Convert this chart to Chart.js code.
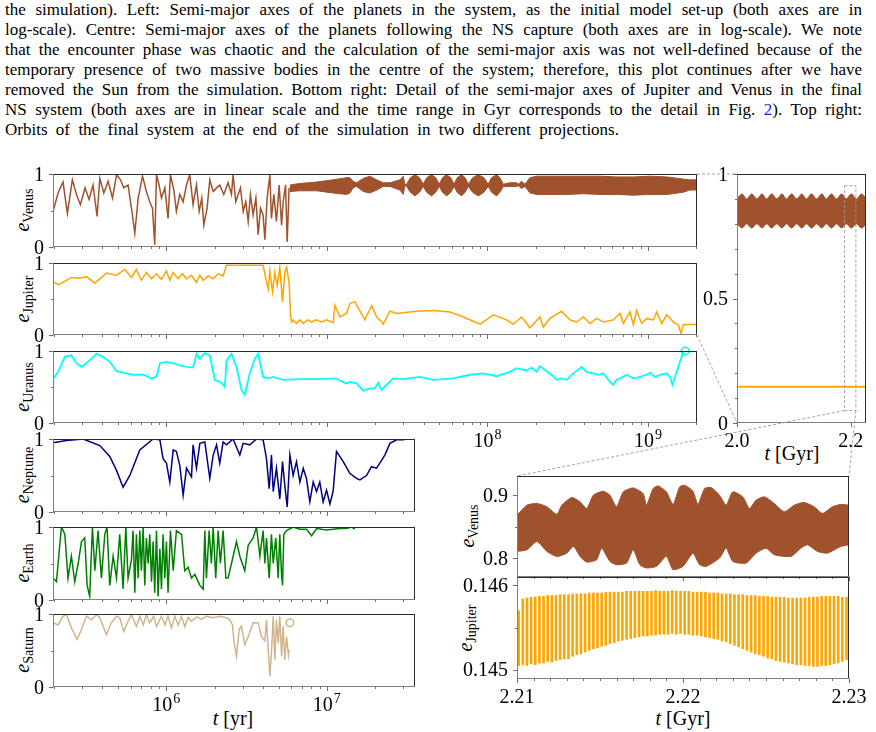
<!DOCTYPE html>
<html>
<head>
<meta charset="utf-8">
<script src="https://cdn.jsdelivr.net/npm/chart.js@4.4.1/dist/chart.umd.min.js"></script>
<style>
  body { margin: 0; background: #fff; }
  #fig { position: relative; width: 876px; height: 732px; overflow: hidden; font-family: "Liberation Serif", serif; color: #000; }
  #fig canvas { position: absolute; }
  .cap { position: absolute; left: 5px; font-size: 17px; line-height: 20px; white-space: nowrap; }
  .lab { position: absolute; white-space: nowrap; font-size: 20px; transform: translate(-50%, -50%); }
  .rot { transform: translate(-50%, -50%) rotate(-90deg); }
  .lab .sb { font-size: 14px; position: relative; top: 4px; }
</style>
</head>
<body>
<div id="fig">
  <div class="cap" style="top:0px" data-w="857"><span>the simulation). Left: Semi-major axes of the planets in the system, as the initial model set-up (both axes are in</span></div>
  <div class="cap" style="top:20px" data-w="857"><span>log-scale). Centre: Semi-major axes of the planets following the NS capture (both axes are in log-scale). We note</span></div>
  <div class="cap" style="top:40px" data-w="857"><span>that the encounter phase was chaotic and the calculation of the semi-major axis was not well-defined because of the</span></div>
  <div class="cap" style="top:60px" data-w="857"><span>temporary presence of two massive bodies in the centre of the system; therefore, this plot continues after we have</span></div>
  <div class="cap" style="top:80px" data-w="857"><span>removed the Sun from the simulation. Bottom right: Detail of the semi-major axes of Jupiter and Venus in the final</span></div>
  <div class="cap" style="top:100px" data-w="857"><span>NS system (both axes are in linear scale and the time range in Gyr corresponds to the detail in Fig. <span style="color:#1a1aff">2</span>). Top right:</span></div>
  <div class="cap" style="top:120px" data-w="614"><span>Orbits of the final system at the end of the simulation in two different projections.</span></div>

  <div class="lab rot" style="left:22px;top:210px"><i>e</i><span class="sb">Venus</span></div>
  <div class="lab rot" style="left:22px;top:299px"><i>e</i><span class="sb">Jupiter</span></div>
  <div class="lab rot" style="left:22px;top:387px"><i>e</i><span class="sb">Uranus</span></div>
  <div class="lab rot" style="left:22px;top:475px"><i>e</i><span class="sb">Neptune</span></div>
  <div class="lab rot" style="left:22px;top:563px"><i>e</i><span class="sb">Earth</span></div>
  <div class="lab rot" style="left:22px;top:650px"><i>e</i><span class="sb">Saturn</span></div>
  <div class="lab rot" style="left:467px;top:526px"><i>e</i><span class="sb">Venus</span></div>
  <div class="lab rot" style="left:465px;top:628px"><i>e</i><span class="sb">Jupiter</span></div>
  <div class="lab" style="left:233px;top:718px"><i>t</i> [yr]</div>
  <div class="lab" style="left:792px;top:453px"><i>t</i> [Gyr]</div>
  <div class="lab" style="left:683px;top:718px"><i>t</i> [Gyr]</div>
</div>
<script>
// ---- data: eccentricity vs log10(t / yr) ----
const venusLogT = [5.295,5.326,5.357,5.384,5.415,5.445,5.465,5.494,5.519,5.544,5.569,5.586,5.611,5.638,5.665,5.690,5.715,5.735,5.762,5.789,5.804,5.825,5.852,5.876,5.897,5.914,5.928,5.939,5.955,5.970,5.991,6.011,6.026,6.047,6.063,6.084,6.105,6.126,6.146,6.167,6.188,6.205,6.221,6.234,6.254,6.271,6.292,6.313,6.333,6.358,6.385,6.406,6.416,6.433,6.448,6.462,6.479,6.495,6.510,6.524,6.541,6.558,6.572,6.587,6.603,6.614,6.628,6.645,6.655,6.670,6.686,6.703,6.718,6.728,6.743,6.753,6.765];
const venusE = [.49,.74,.89,.46,.92,.69,.58,.81,.65,.85,.42,.94,.74,.90,.67,.99,.92,.81,.85,.44,.19,.67,.97,.76,.62,.53,.03,.99,.85,.67,.81,.39,.99,.78,.49,.72,.62,.85,.99,.58,.85,.49,.67,.30,.53,.92,.76,.81,.85,.72,.88,.72,.99,.62,.72,.81,.49,.62,.35,.72,.44,.67,.17,.53,.44,.10,.67,.99,.39,.72,.35,.85,.30,.62,.85,.07,.81];
// fast oscillation after the capture: upper / lower envelope
const venusBandLogT = [6.770,6.832,6.936,7.039,7.123,7.144,7.164,7.185,7.227,7.268,7.310,7.351,7.393,7.455,7.476,7.486,
  7.497,7.520,7.549,7.577,7.600,7.622,7.652,7.678,7.700,7.720,7.746,7.772,7.792,7.812,7.839,7.861,7.881,7.908,7.943,7.978,8.005,8.026,8.057,8.078,8.099,
  8.140,8.182,8.192,8.213,8.234,8.265,8.307,8.390,8.494,8.597,8.700,8.805,8.909,9.013,9.117,9.220,9.260,9.308];
const venusBandHi = [.85,.87,.89,.92,.95,.95,.90,.88,.94,.97,.92,.88,.88,.92,.97,.86,
  .86,.95,.99,.95,.86,.95,.99,.95,.86,.95,.99,.95,.86,.95,.99,.95,.86,.95,.99,.95,.86,.95,.99,.95,.86,
  .88,.88,.86,.90,.86,.95,.97,.97,.97,.97,.97,.96,.96,.97,.96,.93,.92,.92];
const venusBandLo = [.76,.77,.77,.74,.72,.74,.81,.83,.76,.74,.78,.83,.83,.78,.72,.84,
  .83,.75,.70,.75,.83,.75,.70,.75,.83,.75,.70,.75,.83,.75,.70,.75,.83,.75,.70,.75,.83,.75,.70,.75,.83,
  .83,.83,.84,.80,.83,.74,.72,.72,.72,.73,.72,.72,.71,.72,.72,.75,.78,.78];

const jupiterLogT = [5.295,5.326,5.357,5.409,5.461,5.503,5.555,5.586,5.627,5.690,5.742,5.783,5.814,5.845,5.876,5.908,5.939,5.970,6.001,6.022,
  6.043,6.074,6.101,6.126,6.157,6.188,6.209,6.230,6.261,6.292,6.323,6.354,6.375,6.416,6.603,6.620,6.635,6.645,6.662,6.676,
  6.691,6.707,6.724,6.738,6.749,6.765,6.774,6.780,6.790,6.811,6.832,6.853,6.884,6.905,6.936,6.967,6.998,7.039,7.050,7.081,
  7.123,7.144,7.175,7.237,7.279,7.310,7.341,7.351,7.393,7.434,7.559,7.663,7.767,7.850,7.954,8.037,8.120,8.161,8.213,8.265,
  8.327,8.348,8.390,8.462,8.514,8.556,8.597,8.639,8.680,8.722,8.784,8.826,8.847,8.888,8.909,8.930,8.961,8.992,9.034,9.054,
  9.086,9.117,9.158,9.189,9.206,9.220,9.308];
const jupiterE = [.74,.70,.73,.80,.79,.81,.72,.78,.86,.83,.91,.80,.91,.76,.87,.78,.85,.77,.89,.76,
  .87,.78,.85,.78,.83,.73,.83,.76,.82,.78,.85,.82,.97,.97,.97,.78,.64,.89,.60,.87,
  .69,.94,.46,.87,.94,.73,.28,.18,.21,.16,.21,.16,.21,.18,.21,.18,.21,.17,.41,.25,
  .30,.44,.46,.21,.41,.25,.18,.15,.33,.30,.33,.34,.32,.25,.15,.28,.21,.15,.25,.10,
  .25,.11,.23,.33,.21,.18,.25,.16,.23,.18,.21,.30,.16,.32,.14,.34,.16,.23,.21,.32,
  .16,.28,.18,.14,.02,.147,.147];

const uranusLogT = [5.295,5.326,5.368,5.409,5.440,5.472,5.513,5.565,5.607,5.648,5.690,5.731,5.793,5.856,5.908,5.939,5.960,6.001,6.043,6.084,
  6.126,6.167,6.188,6.209,6.240,6.271,6.302,6.344,6.365,6.375,6.406,6.437,6.468,6.489,6.520,6.551,6.572,6.603,6.635,6.666,
  6.728,6.832,6.956,7.060,7.081,7.123,7.144,7.185,7.227,7.268,7.299,7.320,7.341,7.372,7.414,7.476,7.580,7.663,7.787,7.891,
  7.974,8.057,8.140,8.182,8.244,8.275,8.307,8.327,8.369,8.410,8.431,8.462,8.494,8.535,8.587,8.618,8.660,8.691,8.722,8.764,
  8.784,8.805,8.826,8.867,8.909,8.950,8.992,9.013,9.044,9.075,9.117,9.137,9.152,9.168,9.189,9.210,9.220,9.231];
const uranusE = [.61,.71,.92,.94,.83,.78,.85,.96,.92,.85,.72,.70,.67,.67,.62,.64,.83,.85,.83,.80,
  .78,.77,.96,.89,.97,.94,.60,.56,.50,.87,.96,.78,.46,.39,.69,.89,.96,.64,.62,.64,
  .60,.61,.61,.62,.59,.55,.57,.55,.45,.48,.48,.56,.46,.53,.62,.61,.64,.60,.62,.67,
  .69,.65,.71,.76,.73,.77,.71,.79,.72,.65,.60,.62,.60,.69,.78,.71,.69,.67,.69,.57,
  .53,.60,.62,.67,.62,.64,.67,.70,.64,.67,.69,.64,.53,.64,.78,.92,.99,1.0];

const neptuneLogT = [5.295,5.378,5.482,5.586,5.648,5.690,5.731,5.773,5.835,5.918,5.960,5.980,6.001,6.022,6.043,6.063,6.084,6.105,6.126,6.157,
  6.167,6.188,6.209,6.240,6.271,6.292,6.313,6.333,6.354,6.375,6.416,6.458,6.479,6.520,6.562,6.603,6.624,6.641,6.655,6.666,
  6.686,6.707,6.724,6.738,6.753,6.770,6.790,6.811,6.832,6.853,6.873,6.894,6.915,6.936,6.956,6.977,6.998,7.019,7.039,7.060,
  7.102,7.143,7.185,7.206,7.247,7.278,7.309,7.330,7.361,7.393,7.434,7.476,7.496];
const neptuneE = [.95,.98,1.0,.91,.76,.57,.34,.50,.85,1.0,.99,.73,.67,.41,.85,.83,.64,.23,.60,.48,
  .92,.60,.94,.96,.46,.78,.92,.67,.96,.92,1.0,.78,.94,.92,1.0,.99,.73,.32,.78,.28,
  .60,.18,.69,.37,.07,.78,.50,.69,.41,.60,.46,.14,.41,.28,.41,.14,.30,.11,.28,.83,
  .69,.53,.46,.44,.50,.62,.60,.67,.78,.94,.99,.99,1.0];

const earthLogT = [5.295,5.316,5.347,5.368,5.388,5.409,5.430,5.451,5.472,5.492,5.507,5.523,5.540,5.555,5.575,5.596,5.617,5.631,5.648,5.669,
  5.690,5.710,5.731,5.748,5.762,5.783,5.793,5.804,5.814,5.825,5.835,5.845,5.856,5.866,5.876,5.887,5.897,5.908,5.918,5.928,
  5.939,5.949,5.960,5.970,5.980,5.991,6.001,6.011,6.026,6.043,6.063,6.095,6.115,6.136,6.157,6.178,6.209,6.230,6.240,6.250,
  6.267,6.281,6.292,6.308,6.323,6.337,6.354,6.371,6.385,6.406,6.437,6.458,6.489,6.510,6.541,6.562,6.583,6.603,6.614,6.624,
  6.641,6.655,6.666,6.682,6.697,6.707,6.718,6.724,6.732,6.749,6.790,6.832,6.873,6.905,6.936,6.998,7.039,7.081,7.123,7.154,7.175];
const earthE = [.30,.25,1.0,.90,.30,.60,.25,.50,.80,.85,.20,.05,1.0,.40,.95,.30,.90,1.0,.20,.60,
  .30,.90,.15,1.0,.30,.55,.95,.10,.90,.30,.95,.40,1.0,.20,.85,.50,.90,.25,.80,.10,
  .95,.05,.70,.15,.90,.30,.80,.10,.95,.40,.95,.90,.40,.45,.30,.35,.20,.15,.95,.30,
  .95,.50,1.0,.30,.95,.50,.95,.30,.30,.50,.80,.60,.40,.75,.85,1.0,.60,.95,.50,.85,
  .30,.90,.50,.85,.30,.90,.35,.20,.90,.95,1.0,.97,.97,.88,.98,.96,.97,.98,.98,1.0,.97];

const saturnLogT = [5.295,5.326,5.357,5.378,5.409,5.445,5.472,5.503,5.534,5.565,5.586,5.627,5.658,5.690,5.710,5.735,5.762,5.783,5.814,5.835,
  5.856,5.876,5.897,5.922,5.939,5.970,5.991,6.011,6.032,6.053,6.074,6.095,6.115,6.136,6.157,6.188,6.219,6.250,6.292,6.333,
  6.375,6.396,6.412,6.423,6.437,6.454,6.468,6.489,6.510,6.541,6.572,6.593,6.614,6.624,6.635,6.645,6.655,6.666,6.676,6.686,
  6.697,6.707,6.718,6.728,6.738,6.749,6.761,6.765];
const saturnE = [.88,.85,.97,.99,.81,.65,.79,.97,.92,.99,.95,.72,.88,.97,.95,.76,.90,.99,.83,.97,
  .85,.99,.88,.97,.83,.97,.85,.97,.81,.97,.85,.97,.83,.95,.90,.96,.93,.97,.95,.97,
  .95,.92,.85,.60,.42,.79,.83,.58,.69,.88,.88,.69,.63,.92,.51,.15,.47,.97,.37,.92,
  .60,.97,.42,.83,.37,.69,.44,.51];
const saturnEndLogT = [6.770], saturnEndE = [.88];
const uranusEndLogT = [9.231], uranusEndE = [1.0];

// ---- final system, t in Gyr ----
const lateT = [2.000,2.009,2.017,2.026,2.035,2.044,2.052,2.061,2.070,2.079,2.087,2.096,2.105,2.114,2.122,2.131,2.140,2.149,2.157,2.166,2.175,2.184,2.192,2.201,2.210,2.219,2.227];
const lateVenusHi = [.90,.92,.90,.92,.90,.92,.90,.92,.90,.92,.90,.92,.90,.92,.90,.92,.90,.92,.90,.92,.90,.92,.90,.92,.90,.92,.90];
const lateVenusLo = [.80,.783,.80,.783,.80,.783,.80,.783,.80,.783,.80,.783,.80,.783,.80,.783,.80,.783,.80,.783,.80,.783,.80,.783,.80,.783,.80];
const lateJupiterT = [2.000, 2.227];
const lateJupiterE = [0.1455, 0.1455];
const zoomBoxT = [2.189, 2.209];
const zoomBoxE = [0.05, 0.953];

// ---- detail 2.21 - 2.23 Gyr ----
const detailVenusHiT = [2.2100,2.2106,2.2112,2.2118,2.2124,2.2127,2.2133,2.2138,2.2142,2.2146,2.2152,2.2156,2.2160,2.2164,2.2170,2.2176,2.2178,2.2182,2.2185,2.2190,2.2194,2.2198,2.2201,2.2206,2.2209,2.2213,2.2217,2.2222,2.2226,2.2230,2.2236,2.2240,2.2244,2.2249,2.2255,2.2261,2.2267,2.2273,2.2279,2.2284,2.2290,2.2295,2.2300];
const detailVenusHiE = [.8684,.8842,.8868,.8816,.8695,.8842,.8963,.8895,.8790,.9000,.9063,.9000,.8816,.9053,.9116,.9026,.8842,.9105,.9147,.9053,.8853,.9132,.9158,.9063,.8853,.9105,.9121,.9000,.8842,.9053,.8974,.8790,.8921,.8974,.8868,.8737,.8842,.8884,.8816,.8711,.8816,.8853,.8842];
const detailVenusLoT = [2.2100,2.2106,2.2112,2.2118,2.2124,2.2130,2.2134,2.2138,2.2142,2.2148,2.2151,2.2156,2.2160,2.2166,2.2170,2.2174,2.2178,2.2184,2.2190,2.2194,2.2200,2.2206,2.2210,2.2214,2.2222,2.2226,2.2230,2.2238,2.2244,2.2250,2.2255,2.2265,2.2271,2.2275,2.2281,2.2287,2.2295,2.2300];
const detailVenusLoE = [.8106,.8132,.8263,.8106,.8027,.8079,.8185,.8027,.7937,.7974,.8158,.7948,.7895,.7921,.8132,.7895,.7843,.7869,.8027,.7816,.7869,.8079,.7895,.7869,.8000,.8158,.7948,.7921,.8079,.8158,.8053,.8027,.8158,.8211,.8106,.8079,.8185,.8211];

const detailJupiterT = [2.21010,2.21035,2.21060,2.21085,2.21110,2.21135,2.21160,2.21185,2.21210,2.21235,
  2.21260,2.21285,2.21310,2.21335,2.21360,2.21385,2.21410,2.21435,2.21460,2.21485,
  2.21510,2.21535,2.21560,2.21585,2.21610,2.21635,2.21660,2.21685,2.21710,2.21735,
  2.21760,2.21785,2.21810,2.21835,2.21860,2.21885,2.21910,2.21935,2.21960,2.21985,
  2.22010,2.22035,2.22060,2.22085,2.22110,2.22135,2.22160,2.22185,2.22210,2.22235,
  2.22260,2.22285,2.22310,2.22335,2.22360,2.22385,2.22410,2.22435,2.22460,2.22485,
  2.22510,2.22535,2.22560,2.22585,2.22610,2.22635,2.22660,2.22685,2.22710,2.22735,
  2.22760,2.22785,2.22810,2.22835,2.22860,2.22885,2.22910,2.22935,2.22960,2.22985];
const detailJupiterLo = [.14505,.14506,.14505,.14507,.14506,.14508,.14508,.14510,.14509,.14511,
  .14512,.14513,.14513,.14516,.14518,.14519,.14521,.14523,.14525,.14526,
  .14528,.14529,.14531,.14532,.14534,.14535,.14536,.14537,.14538,.14539,
  .14540,.14540,.14541,.14541,.14542,.14542,.14542,.14543,.14542,.14543,
  .14542,.14542,.14541,.14541,.14540,.14539,.14538,.14537,.14536,.14534,
  .14533,.14531,.14529,.14527,.14525,.14523,.14521,.14519,.14518,.14516,
  .14514,.14513,.14511,.14510,.14509,.14508,.14507,.14506,.14506,.14505,
  .14505,.14504,.14504,.14505,.14505,.14506,.14507,.14508,.14510,.14512];
const detailJupiterHi = [.14570,.14584,.14585,.14586,.14586,.14587,.14587,.14588,.14588,.14588,
  .14589,.14589,.14589,.14590,.14590,.14590,.14590,.14591,.14591,.14591,
  .14591,.14592,.14592,.14592,.14592,.14592,.14593,.14593,.14593,.14593,
  .14593,.14593,.14593,.14594,.14593,.14593,.14593,.14594,.14593,.14593,
  .14593,.14593,.14592,.14592,.14592,.14592,.14591,.14591,.14591,.14590,
  .14590,.14590,.14589,.14589,.14589,.14588,.14588,.14588,.14587,.14587,
  .14587,.14586,.14586,.14586,.14586,.14585,.14585,.14585,.14585,.14585,
  .14586,.14586,.14586,.14587,.14587,.14587,.14587,.14587,.14586,.14586];

// ---- colours ----
const SIENNA = '#a0522d', ORANGE = '#ffa500', CYAN = '#00ffff', NAVY = '#000080', GREEN = '#008000', TAN = '#d2b48c';
const FONT = '"Liberation Serif", serif';

// caption: stretch word spacing so each line fills its width
document.querySelectorAll('.cap').forEach(el => {
  const span = el.firstElementChild;
  const nat = span.getBoundingClientRect().width;
  const gaps = (span.textContent.match(/ /g) || []).length;
  span.style.wordSpacing = ((+el.dataset.w - nat) / gaps) + 'px';
});

const logPts = (lt, e) => lt.map((v, i) => ({ x: Math.pow(10, v), y: e[i] }));
const pts = (t, e) => t.map((v, i) => ({ x: v, y: e[i] }));

function logTicks(min, max, labelled) {
  const out = [];
  for (let n = 5; n <= 9; n++) for (let k = 1; k <= 9; k++) {
    const v = k * Math.pow(10, n);
    if (v >= min * 0.999 && v <= max * 1.001) out.push({ v, major: k === 1, exp: (k === 1 && labelled.includes(n)) ? String(n) : null });
  }
  return out;
}
const unitY = [{ v: 0, major: true, label: '0' }, { v: 0.5 }, { v: 1, major: true, label: '1' }];

// spines, outward ticks and tick labels
const frame = {
  id: 'frame',
  afterDraw(chart, _a, o) {
    const c = chart.ctx, a = chart.chartArea, xs = chart.scales.x, ys = chart.scales.y;
    const L = Math.round(a.left) + 0.5, R = Math.round(a.right) - 0.5;
    const T = Math.round(a.top) + 0.5, B = Math.round(a.bottom) - 0.5;
    const seg = (x1, y1, x2, y2) => { c.beginPath(); c.moveTo(x1, y1); c.lineTo(x2, y2); c.stroke(); };
    c.save();
    c.lineWidth = 1;
    c.strokeStyle = '#2b2b2b';
    seg(L - 0.5, T, R + 0.5, T); seg(R, T, R, B + 0.5);
    c.strokeStyle = '#808080';
    seg(L, T, L, B + 0.5); seg(L - 0.5, B, R + 0.5, B);
    c.strokeStyle = '#6e6e6e';
    (o.xTicks || []).forEach(t => {
      const p = Math.round(xs.getPixelForValue(t.v)) + 0.5;
      seg(p, B, p, B + (t.major ? 4.5 : 2.5));
    });
    (o.yTicks || []).forEach(t => {
      const p = Math.round(ys.getPixelForValue(t.v)) + 0.5;
      seg(L - (t.major ? 4.5 : 2.5), p, L, p);
    });
    c.fillStyle = '#000';
    const base = a.bottom + 23.5;
    (o.xTicks || []).forEach(t => {
      const p = xs.getPixelForValue(t.v);
      if (t.exp) {
        c.font = '20px ' + FONT; const w1 = c.measureText('10').width;
        c.font = '14px ' + FONT; const w2 = c.measureText(t.exp).width;
        const x0 = p - (w1 + w2 + 1) / 2;
        c.textAlign = 'left';
        c.font = '20px ' + FONT; c.fillText('10', x0, base);
        c.font = '14px ' + FONT; c.fillText(t.exp, x0 + w1 + 1, base - 8);
      } else if (t.label) {
        c.font = '20px ' + FONT; c.textAlign = 'center';
        c.fillText(t.label, p, base);
      }
    });
    c.font = '20px ' + FONT; c.textAlign = 'right';
    (o.yTicks || []).forEach(t => {
      if (t.label) c.fillText(t.label, a.left - 9, ys.getPixelForValue(t.v) + 6.6);
    });
    c.restore();
  }
};

const fig = document.getElementById('fig');
const PAD = { left: 60, right: 34, top: 10, bottom: 36 };
function panel(box, type, xScale, yScale, datasets, frameOpts) {
  const cv = document.createElement('canvas');
  cv.width = box.r - box.l + PAD.left + PAD.right;
  cv.height = box.b - box.t + PAD.top + PAD.bottom;
  cv.style.left = (box.l - PAD.left) + 'px';
  cv.style.top = (box.t - PAD.top) + 'px';
  fig.appendChild(cv);
  const chart = new Chart(cv, {
    type,
    data: { datasets },
    options: {
      responsive: false, animation: false, events: [],
      layout: { padding: PAD },
      scales: { x: Object.assign({ display: false }, xScale), y: Object.assign({ display: false }, yScale) },
      elements: { point: { radius: 0 }, line: { borderWidth: 1.5, tension: 0 } },
      plugins: { legend: { display: false }, tooltip: { enabled: false }, frame: frameOpts }
    },
    plugins: [frame]
  });
  chart.$ox = box.l - PAD.left;
  chart.$oy = box.t - PAD.top;
  return chart;
}

const line = (data, color, extra) => Object.assign({ data, borderColor: color, backgroundColor: color, fill: false }, extra || {});
const marker = (data, color) => ({ data, showLine: false, clip: false, pointRadius: 3.8, pointBorderWidth: 1.5, pointBorderColor: color, pointBackgroundColor: '#fff' });

const WIDE = { type: 'logarithmic', min: 1.97e5, max: 2.02e9 };
const LEFT = { type: 'logarithmic', min: 1.97e5, max: 3.54e7 };
const UNIT = { type: 'linear', min: 0, max: 1 };

const venusWide = panel({ l: 53, r: 697, t: 174, b: 247 }, 'line', WIDE, UNIT, [
  line(logPts(venusLogT, venusE), SIENNA),
  line(logPts(venusBandLogT, venusBandHi), SIENNA, { borderWidth: 1, fill: '+1' }),
  line(logPts(venusBandLogT, venusBandLo), SIENNA, { borderWidth: 1 })
], { xTicks: logTicks(WIDE.min, WIDE.max, []), yTicks: unitY });

const jupiterWide = panel({ l: 53, r: 697, t: 263, b: 335 }, 'line', WIDE, UNIT, [
  line(logPts(jupiterLogT, jupiterE), ORANGE)
], { xTicks: logTicks(WIDE.min, WIDE.max, []), yTicks: unitY });

panel({ l: 53, r: 697, t: 351, b: 423 }, 'line', WIDE, UNIT, [
  line(logPts(uranusLogT, uranusE), CYAN, { borderWidth: 1.8 }),
  marker(logPts(uranusEndLogT, uranusEndE), CYAN)
], { xTicks: logTicks(WIDE.min, WIDE.max, [8, 9]), yTicks: unitY });

panel({ l: 53, r: 415, t: 439, b: 512 }, 'line', LEFT, UNIT, [
  line(logPts(neptuneLogT, neptuneE), NAVY)
], { xTicks: logTicks(LEFT.min, LEFT.max, []), yTicks: unitY });

panel({ l: 53, r: 415, t: 527, b: 600 }, 'line', LEFT, UNIT, [
  line(logPts(earthLogT, earthE), GREEN)
], { xTicks: logTicks(LEFT.min, LEFT.max, []), yTicks: unitY });

panel({ l: 53, r: 415, t: 614, b: 687 }, 'line', LEFT, UNIT, [
  line(logPts(saturnLogT, saturnE), TAN),
  marker(logPts(saturnEndLogT, saturnEndE), TAN)
], { xTicks: logTicks(LEFT.min, LEFT.max, [6, 7]), yTicks: unitY });

const lateY = [{ v: 0, major: true, label: '0' }, { v: 0.1 }, { v: 0.2 }, { v: 0.3 }, { v: 0.4 }, { v: 0.5, major: true, label: '0.5' },
  { v: 0.6 }, { v: 0.7 }, { v: 0.8 }, { v: 0.9 }, { v: 1, major: true, label: '1' }];
const lateChart = panel({ l: 737, r: 866, t: 174, b: 423 }, 'line', { type: 'linear', min: 2.0, max: 2.2268 }, UNIT, [
  line(pts(lateT, lateVenusHi), SIENNA, { borderWidth: 1, fill: '+1', tension: 0.35 }),
  line(pts(lateT, lateVenusLo), SIENNA, { borderWidth: 1, tension: 0.35 }),
  line(pts(lateJupiterT, lateJupiterE), ORANGE, { borderWidth: 2 })
], { xTicks: [{ v: 2.0, major: true, label: '2.0' }, { v: 2.2, major: true, label: '2.2' }], yTicks: lateY });

const detailX = { type: 'linear', min: 2.21, max: 2.23, offset: false };
const detailXTicks = [];
[2.210, 2.211, 2.212, 2.213, 2.214, 2.215, 2.216, 2.217, 2.218, 2.219, 2.220,
 2.221, 2.222, 2.223, 2.224, 2.225, 2.226, 2.227, 2.228, 2.229, 2.230].forEach((v, i) =>
  detailXTicks.push({ v, major: i % 10 === 0, label: i % 10 === 0 ? v.toFixed(2) : null }));

const venusDetail = panel({ l: 517, r: 849, t: 476, b: 577 }, 'line', detailX, { type: 'linear', min: 0.77, max: 0.9305 }, [
  line(pts(detailVenusHiT, detailVenusHiE), SIENNA, { borderWidth: 1, fill: '+1', tension: 0.2 }),
  line(pts(detailVenusLoT, detailVenusLoE), SIENNA, { borderWidth: 1, tension: 0.2 })
], { xTicks: detailXTicks.map(t => ({ v: t.v, major: t.major })),
     yTicks: [{ v: 0.8, major: true, label: '0.8' }, { v: 0.85 }, { v: 0.9, major: true, label: '0.9' }] });

panel({ l: 517, r: 849, t: 577, b: 679 }, 'bar', detailX, { type: 'linear', min: 0.14489, max: 0.1461 }, [
  { data: detailJupiterT.map((t, i) => ({ x: t, y: [detailJupiterLo[i], detailJupiterHi[i]] })),
    backgroundColor: ORANGE, borderWidth: 0, barThickness: 2 }
], { xTicks: detailXTicks,
     yTicks: [{ v: 0.145, major: true, label: '0.145' }, { v: 0.1455 }, { v: 0.146, major: true, label: '0.146' }] });

// dashed zoom indicators
const ov = document.createElement('canvas');
ov.width = 876; ov.height = 732; ov.style.left = '0px'; ov.style.top = '0px';
fig.appendChild(ov);
const g = ov.getContext('2d');
g.strokeStyle = '#9a9a9a'; g.lineWidth = 0.9; g.setLineDash([3, 2]);
const corner = (ch, sx, sy) => [ch.$ox + ch.chartArea[sx], ch.$oy + ch.chartArea[sy]];
const seg = (p, q) => { g.beginPath(); g.moveTo(p[0], p[1]); g.lineTo(q[0], q[1]); g.stroke(); };
seg(corner(venusWide, 'right', 'top'), corner(lateChart, 'left', 'top'));
seg(corner(jupiterWide, 'right', 'bottom'), corner(lateChart, 'left', 'bottom'));
const bx0 = lateChart.$ox + lateChart.scales.x.getPixelForValue(zoomBoxT[0]);
const bx1 = lateChart.$ox + lateChart.scales.x.getPixelForValue(zoomBoxT[1]);
const by0 = lateChart.$oy + lateChart.scales.y.getPixelForValue(zoomBoxE[0]);
const by1 = lateChart.$oy + lateChart.scales.y.getPixelForValue(zoomBoxE[1]);
g.strokeRect(bx0, by1, bx1 - bx0, by0 - by1);
seg([bx0, by0], corner(venusDetail, 'left', 'top'));
seg([bx1, by0], corner(venusDetail, 'right', 'top'));
</script>
</body>
</html>
